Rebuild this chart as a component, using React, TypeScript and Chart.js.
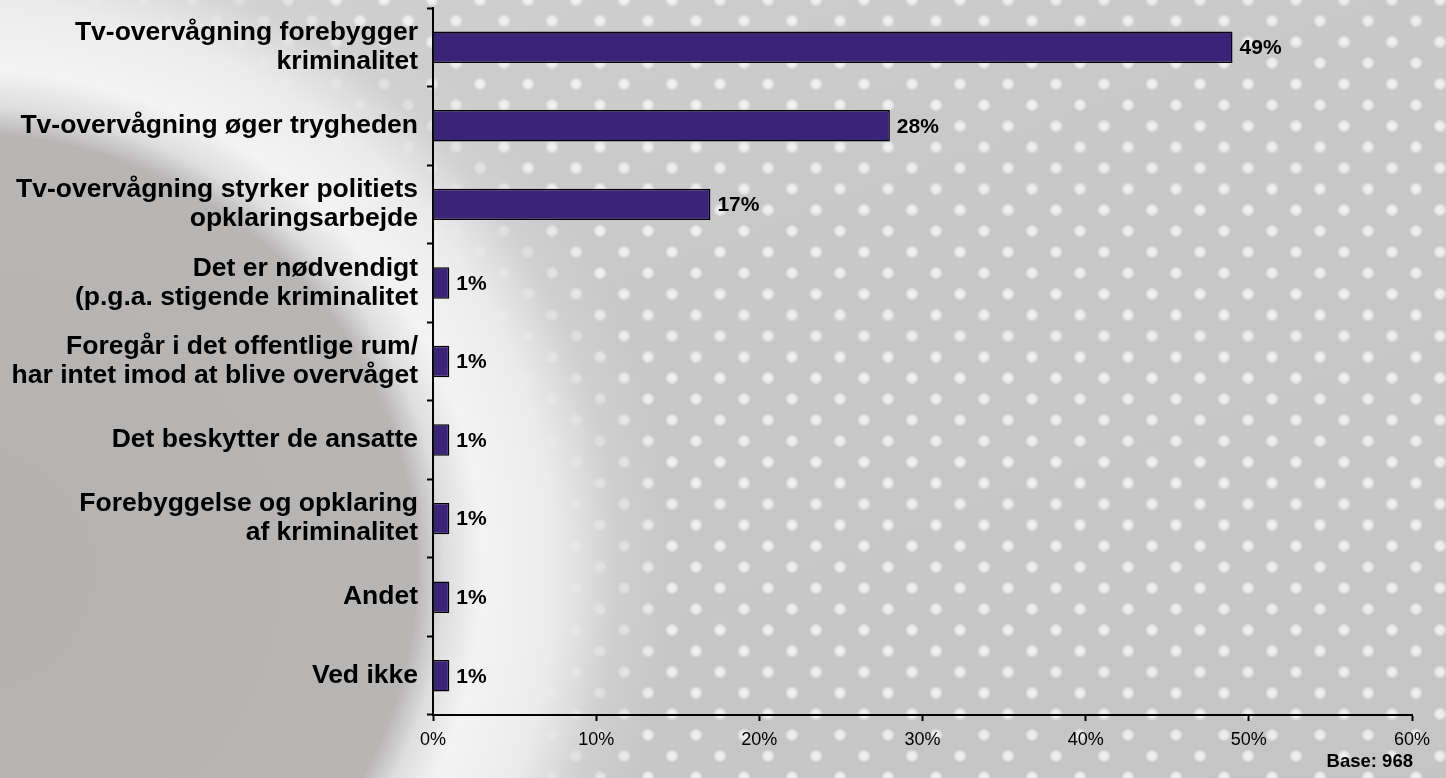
import React, { useEffect, useRef } from "react";
import { Chart, registerables } from "chart.js";

Chart.register(...registerables);

const categories: string[][] = [
  ["Tv-overvågning forebygger", "kriminalitet"],
  ["Tv-overvågning øger trygheden"],
  ["Tv-overvågning styrker politiets", "opklaringsarbejde"],
  ["Det er nødvendigt", "(p.g.a. stigende kriminalitet"],
  ["Foregår i det offentlige rum/", "har intet imod at blive overvåget"],
  ["Det beskytter de ansatte"],
  ["Forebyggelse og opklaring", "af kriminalitet"],
  ["Andet"],
  ["Ved ikke"],
];
const values: number[] = [49, 28, 17, 1, 1, 1, 1, 1, 1];
const axisMax = 60;
const axisStep = 10;
const baseNote = "Base: 968";

const FONT = "'Liberation Sans', Arial, Helvetica, sans-serif";

const valueLabels = {
  id: "valueLabels",
  afterDatasetsDraw(chart: any) {
    const ctx = chart.ctx;
    const meta = chart.getDatasetMeta(0);
    ctx.save();
    ctx.font = `bold 21px ${FONT}`;
    ctx.fillStyle = "#000";
    ctx.textAlign = "left";
    ctx.textBaseline = "middle";
    meta.data.forEach((bar: any, i: number) => {
      ctx.fillText(`${values[i]}%`, bar.x + 7, bar.y + 1);
    });
    ctx.restore();
  },
};

export default function App() {
  const ref = useRef<HTMLCanvasElement>(null);

  useEffect(() => {
    if (!ref.current) return;
    const chart = new Chart(ref.current, {
      type: "bar",
      data: {
        labels: categories,
        datasets: [
          {
            data: values,
            backgroundColor: "#3B2377",
            borderColor: "#000000",
            borderWidth: 1.5,
            barPercentage: 0.4,
            categoryPercentage: 1.0,
          },
        ],
      },
      options: {
        indexAxis: "y",
        animation: false,
        responsive: false,
        maintainAspectRatio: false,
        layout: { padding: { top: 8, right: 34, left: 0, bottom: 0 } },
        plugins: {
          legend: { display: false },
          tooltip: { enabled: false },
        },
        scales: {
          x: {
            min: 0,
            max: axisMax,
            border: { display: true, color: "#000", width: 2 },
            grid: {
              display: true,
              drawOnChartArea: false,
              drawTicks: true,
              tickLength: 6,
              tickWidth: 2,
              tickColor: "#000",
            },
            ticks: {
              stepSize: axisStep,
              color: "#000",
              padding: 8,
              font: { family: FONT, size: 18 },
              callback: (v: any) => `${v}%`,
            },
            afterFit: (scale: any) => {
              scale.height = 63;
              scale.paddingLeft = 0;
              scale.paddingRight = 0;
            },
          },
          y: {
            border: { display: true, color: "#000", width: 2 },
            grid: {
              display: true,
              offset: true,
              drawOnChartArea: false,
              drawTicks: true,
              tickLength: 6,
              tickWidth: 2,
              tickColor: "#000",
            },
            ticks: {
              color: "#000",
              padding: 9,
              autoSkip: false,
              font: { family: FONT, size: 26.5, weight: "bold", lineHeight: 1.1 },
            },
            afterFit: (scale: any) => {
              scale.width = 433;
              scale.paddingTop = 0;
              scale.paddingBottom = 0;
            },
          },
        },
      },
      plugins: [valueLabels],
    });
    return () => chart.destroy();
  }, []);

  const bg = [
    "radial-gradient(ellipse 480px 460px at -40px 570px, #b4b1b1 0%, #b8b5b5 95%, #dedede 101%, #f3f3f3 109%, #ebebeb 124%, rgba(212,212,212,0.6) 137%, rgba(200,200,200,0) 148%)",
    "radial-gradient(circle, rgba(255,255,255,0.8) 0px, rgba(255,255,255,0.6) 4px, rgba(255,255,255,0) 7px)",
    "radial-gradient(circle, rgba(255,255,255,0.8) 0px, rgba(255,255,255,0.6) 4px, rgba(255,255,255,0) 7px)",
    "linear-gradient(160deg, #d2d1d1 0%, #c9c8c8 40%, #c6c5c5 100%)",
  ].join(", ");

  return (
    <div
      style={{
        position: "fixed",
        left: 0,
        top: 0,
        width: 1446,
        height: 778,
        overflow: "hidden",
        backgroundImage: bg,
        backgroundSize: "auto, 48px 42px, 48px 42px, auto",
        backgroundPosition: "0 0, 0 0, 24px 21px, 0 0",
      }}
    >
      <canvas ref={ref} width={1446} height={778} style={{ display: "block" }} />
      <div
        style={{
          position: "absolute",
          right: 33,
          top: 751,
          fontFamily: FONT,
          fontWeight: "bold",
          fontSize: 18.5,
          lineHeight: "20px",
          color: "#000",
        }}
      >
        {baseNote}
      </div>
    </div>
  );
}
